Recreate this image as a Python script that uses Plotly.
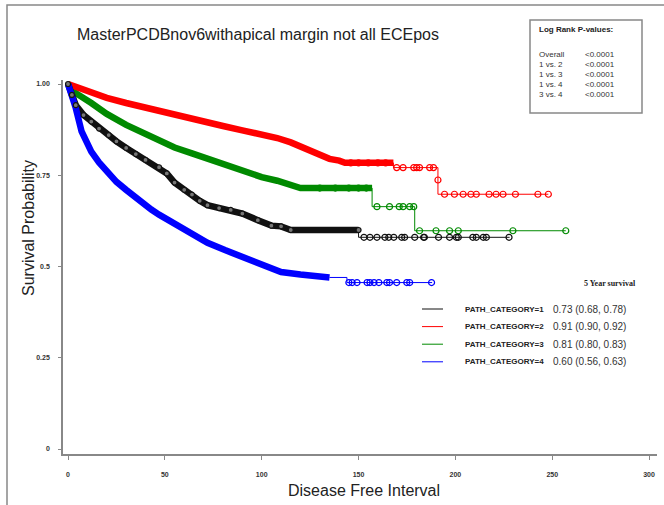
import plotly.graph_objects as go

# ---------------- data ----------------
# Dense (heavily censored) part of each Kaplan-Meier curve
cat1_t = [0, 2, 4, 8, 12, 16, 21, 25, 30, 35, 40, 47, 51, 55, 60, 64, 68, 72, 78, 84, 90, 98, 105, 110, 115, 150]
cat1_s = [1.0, 0.97, 0.942, 0.915, 0.897, 0.878, 0.86, 0.843, 0.825, 0.808, 0.792, 0.772, 0.755, 0.73, 0.71, 0.697, 0.68, 0.668, 0.66, 0.655, 0.645, 0.627, 0.612, 0.61, 0.60, 0.60]

cat2_t = [0, 5, 12, 20, 30, 40, 47, 60, 70, 80, 90, 100, 108, 115, 122, 129, 135, 140, 143, 168]
cat2_s = [1.0, 0.99, 0.975, 0.962, 0.948, 0.935, 0.924, 0.91, 0.898, 0.885, 0.873, 0.862, 0.852, 0.84, 0.825, 0.808, 0.795, 0.79, 0.784, 0.784]

cat3_t = [0, 4, 12, 20, 30, 40, 47, 55, 64, 72, 81, 90, 100, 108, 115, 120, 157]
cat3_s = [1.0, 0.975, 0.948, 0.918, 0.888, 0.862, 0.842, 0.826, 0.81, 0.795, 0.78, 0.763, 0.745, 0.735, 0.725, 0.715, 0.715]

cat4_t = [0, 2, 4, 7, 9, 12, 16, 21, 25, 30, 38, 43, 47, 55, 60, 64, 72, 81, 90, 98, 105, 110, 120, 129, 135]
cat4_s = [1.0, 0.97, 0.934, 0.87, 0.845, 0.815, 0.785, 0.752, 0.732, 0.71, 0.674, 0.656, 0.642, 0.618, 0.60, 0.588, 0.565, 0.545, 0.527, 0.512, 0.495, 0.485, 0.478, 0.474, 0.47]

# Sparse tail: step points
cat1_step_t = [115, 150, 228]
cat1_step_s = [0.60, 0.58, 0.58]
cat2_step_t = [143, 168, 191, 248]
cat2_step_s = [0.784, 0.771, 0.698, 0.698]
cat3_step_t = [120, 157, 179, 257]
cat3_step_s = [0.715, 0.664, 0.598, 0.598]
cat4_step_t = [135, 144, 188]
cat4_step_s = [0.47, 0.456, 0.456]

# Censoring marks in the tails
cat1_cens_t = [152.8, 155.9, 159.5, 163.6, 165.6, 168.2, 172.3, 173.8, 179, 183.6, 184, 191.3, 197, 200.5, 201.5, 209, 210.8, 214.4, 216, 227.7]
cat1_cens_s = [0.58] * 20
cat2_cens_t = [146, 150, 155, 160, 164, 169.7, 173, 178.5, 180, 181.5, 186.7, 188.7, 191, 194.4, 199.5, 204, 208, 210.8, 217.4, 221, 224.6, 231, 242.6, 248]
cat2_cens_s = [0.784, 0.784, 0.784, 0.784, 0.784, 0.771, 0.771, 0.771, 0.771, 0.771, 0.771, 0.771, 0.737,
               0.698, 0.698, 0.698, 0.698, 0.698, 0.698, 0.698, 0.698, 0.698, 0.698, 0.698]
cat3_cens_t = [130, 138, 145, 150, 154, 159.5, 166, 171, 173, 176.4, 178.5, 181.5, 190, 197, 201.5, 229.7, 257]
cat3_cens_s = [0.715, 0.715, 0.715, 0.715, 0.715, 0.664, 0.664, 0.664, 0.664, 0.664, 0.664,
               0.598, 0.598, 0.598, 0.598, 0.598, 0.598]
cat4_cens_t = [145, 146.7, 149.2, 154.4, 155.9, 158, 160.5, 164.6, 166, 169.7, 174.9, 176.4, 187.7]
cat4_cens_s = [0.456] * 13

categories = ["PATH_CATEGORY=1", "PATH_CATEGORY=2", "PATH_CATEGORY=3", "PATH_CATEGORY=4"]
five_year = ["0.73 (0.68, 0.78)", "0.91 (0.90, 0.92)", "0.81 (0.80, 0.83)", "0.60 (0.56, 0.63)"]
colors = ["#111111", "#ff0000", "#008a00", "#0000ff"]

pv_labels = ["Overall", "1 vs. 2", "1 vs. 3", "1 vs. 4", "3 vs. 4"]
pv_values = ["<0.0001", "<0.0001", "<0.0001", "<0.0001", "<0.0001"]

x_ticks = [0, 50, 100, 150, 200, 250, 300]
y_ticks = [0, 0.25, 0.5, 0.75, 1.0]
y_tick_text = ["0", "0.25", "0.5", "0.75", "1.00"]

# ---------------- figure ----------------
W, H = 664, 505
L, R, T, B = 63, 7, 80, 51
PW, PH = W - L - R, H - T - B


def px(x):
    return (x - L) / PW


def py(y):
    return (H - B - y) / PH


fig = go.Figure()

dense = [(cat3_t, cat3_s, colors[2]), (cat2_t, cat2_s, colors[1]),
         (cat1_t, cat1_s, colors[0]), (cat4_t, cat4_s, colors[3])]
steps = [(cat3_step_t, cat3_step_s, colors[2]), (cat2_step_t, cat2_step_s, colors[1]),
         (cat1_step_t, cat1_step_s, colors[0]), (cat4_step_t, cat4_step_s, colors[3])]
cens = [(cat3_cens_t, cat3_cens_s, colors[2]), (cat2_cens_t, cat2_cens_s, colors[1]),
        (cat1_cens_t, cat1_cens_s, colors[0]), (cat4_cens_t, cat4_cens_s, colors[3])]

for (st, ss, c) in steps:
    fig.add_trace(go.Scatter(x=st, y=ss, mode="lines", line=dict(color=c, width=1, shape="hv"),
                             showlegend=False, hoverinfo="skip"))
for (dt, ds, c) in dense:
    fig.add_trace(go.Scatter(x=dt, y=ds, mode="lines", line=dict(color=c, width=6.5),
                             showlegend=False, hoverinfo="skip"))
# texture on black curve
fig.add_trace(go.Scatter(x=cat1_t, y=cat1_s, mode="markers",
                         marker=dict(symbol="circle", size=5, color="#777777",
                                     line=dict(color="#111111", width=1.2)),
                         showlegend=False, hoverinfo="skip"))
for (ct, cs, c) in cens:
    fig.add_trace(go.Scatter(x=ct, y=cs, mode="markers",
                             marker=dict(symbol="circle-open", size=6, color=c, line=dict(width=1.2)),
                             showlegend=False, hoverinfo="skip"))

P = dict(xref="paper", yref="paper", showarrow=False)
ann = []
ann.append(dict(P, x=px(75), y=py(35), text="MasterPCDBnov6withapical margin not all ECEpos",
                xanchor="left", yanchor="middle",
                font=dict(family="Liberation Sans", size=16, color="#222")))
ann.append(dict(P, x=px(28), y=py(228), text="Survival Probability", textangle=-90,
                xanchor="center", yanchor="middle",
                font=dict(family="Liberation Sans", size=16, color="#222")))
ann.append(dict(P, x=px(364), y=py(490), text="Disease Free Interval",
                xanchor="center", yanchor="middle",
                font=dict(family="Liberation Sans", size=16, color="#222")))
# p-value box
ann.append(dict(P, x=px(537), y=py(30), text="<b>Log Rank P-values:</b>", xanchor="left", yanchor="middle",
                font=dict(family="Liberation Sans", size=8, color="#222")))
for i, (lab, val) in enumerate(zip(pv_labels, pv_values)):
    yy = 54.5 + i * 10
    ann.append(dict(P, x=px(537), y=py(yy), text=lab, xanchor="left", yanchor="middle",
                    font=dict(family="Liberation Sans", size=8, color="#333")))
    ann.append(dict(P, x=px(583), y=py(yy), text=val, xanchor="left", yanchor="middle",
                    font=dict(family="Liberation Sans", size=8, color="#333")))
# legend
ann.append(dict(P, x=px(638), y=py(283), text="<b>5 Year survival</b>", xanchor="right", yanchor="middle",
                font=dict(family="Liberation Serif", size=8, color="#222")))
shapes = []
for i, (cat, fy, c) in enumerate(zip(categories, five_year, colors)):
    yy = 309 + i * 17.6
    shapes.append(dict(type="line", xref="paper", yref="paper", x0=px(422), x1=px(443),
                       y0=py(yy), y1=py(yy), line=dict(color=c, width=1)))
    ann.append(dict(P, x=px(463), y=py(yy), text="<b>" + cat + "</b>", xanchor="left", yanchor="middle",
                    font=dict(family="Liberation Sans", size=8, color="#222")))
    ann.append(dict(P, x=px(551), y=py(yy), text=fy, xanchor="left", yanchor="middle",
                    font=dict(family="Liberation Sans", size=10, color="#333")))

# p-value box and outer frame
shapes.append(dict(type="rect", xref="paper", yref="paper", x0=px(530), x1=px(642),
                   y0=py(113), y1=py(20), line=dict(color="#888", width=1.5)))
shapes.append(dict(type="rect", xref="paper", yref="paper", x0=px(7), x1=px(680),
                   y0=py(520), y1=py(5), line=dict(color="#888", width=1.5)))

fig.update_layout(
    width=W, height=H,
    margin=dict(l=L, r=R, t=T, b=B, pad=0, autoexpand=False),
    paper_bgcolor="white", plot_bgcolor="white",
    annotations=ann, shapes=shapes,
    xaxis=dict(range=[-2.6, 304.1], tickvals=x_ticks, ticktext=[str(v) for v in x_ticks],
               showgrid=False, zeroline=False, showline=True, linecolor="#888", linewidth=1.5,
               ticks="outside", ticklen=4, tickcolor="#888", tickwidth=1,
               tickfont=dict(family="Liberation Sans", size=7, color="#333", weight="bold"),
               ticklabelstandoff=9),
    yaxis=dict(range=[-0.0137, 1.011], tickvals=y_ticks, ticktext=y_tick_text,
               showgrid=False, zeroline=False, showline=True, linecolor="#888", linewidth=1.5,
               ticks="outside", ticklen=3, tickcolor="#888", tickwidth=1,
               tickfont=dict(family="Liberation Sans", size=7, color="#333", weight="bold"),
               ticklabelstandoff=7),
)

fig.write_html("out.html", config={"displayModeBar": False},
               post_script="document.body.style.margin='0';")
